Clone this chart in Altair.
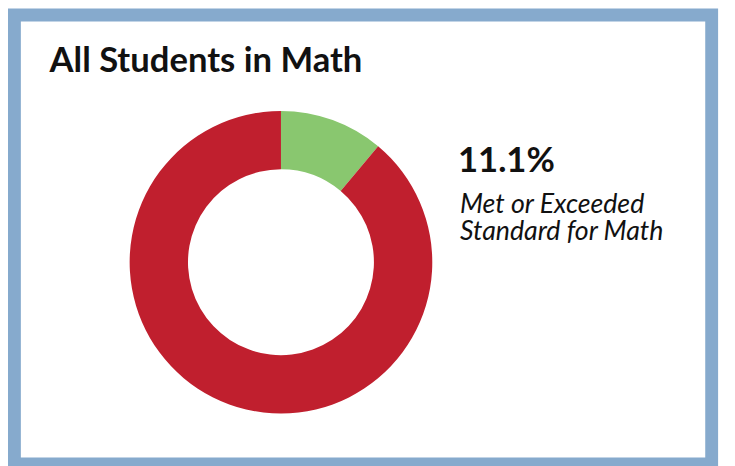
import altair as alt
import pandas as pd

# ---- data ----
categories = ["Met or Exceeded Standard", "Not Met"]
shares = [11.1, 88.9]
slice_order = [0, 1]
colors = ["#89c76f", "#c01f2e"]
title_text = ["All Students in Math"]
headline = ["11.1%"]
caption = ["Met or Exceeded\nStandard for Math"]

W, H = 727, 458
FONT = "Lato, sans-serif"

df = pd.DataFrame({"category": categories, "share": shares, "order": slice_order})
one = pd.DataFrame({"k": [0]})

frame = alt.Chart(one).mark_rect(
    fillOpacity=0, stroke="#86aacd", strokeWidth=13
).encode(
    x=alt.value(6.5), x2=alt.value(711.5), y=alt.value(4.5), y2=alt.value(458.5)
)

donut = alt.Chart(df).mark_arc(outerRadius=153, innerRadius=94).encode(
    theta=alt.Theta("share:Q", stack=True),
    color=alt.Color("category:N", scale=alt.Scale(domain=categories, range=colors), legend=None),
    order=alt.Order("order:Q"),
    x=alt.value(276),
    y=alt.value(254.5),
)

title = alt.Chart(pd.DataFrame({"t": title_text})).mark_text(
    align="left", baseline="alphabetic", fontSize=35, fontWeight="bold", font=FONT, color="#111111"
).encode(x=alt.value(42), y=alt.value(62), text="t:N")

big = alt.Chart(pd.DataFrame({"t": headline})).mark_text(
    align="left", baseline="alphabetic", fontSize=35, fontWeight="bold", font=FONT, color="#111111"
).encode(x=alt.value(455), y=alt.value(163), text="t:N")

cap = alt.Chart(pd.DataFrame({"t": caption})).mark_text(
    align="left", baseline="alphabetic", fontSize=27, fontStyle="italic", font=FONT,
    color="#111111", lineBreak="\n", lineHeight=27
).encode(x=alt.value(457), y=alt.value(205), text="t:N")

chart = alt.layer(frame, donut, title, big, cap).properties(
    width=W, height=H, autosize=alt.AutoSizeParams(type="none"), padding=0, background="white"
).configure_view(stroke=None)

chart.save("out.html", embed_options={"renderer": "svg", "actions": False})
